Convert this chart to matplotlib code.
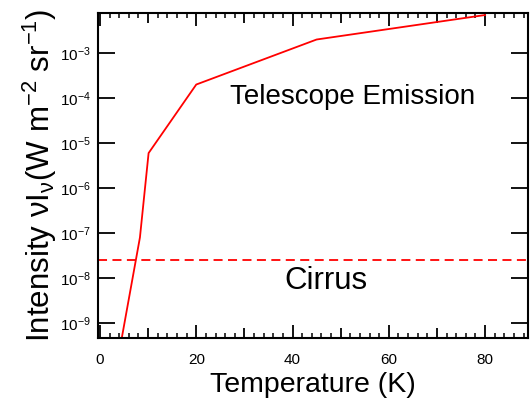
import math
import matplotlib.pyplot as plt
from matplotlib.ticker import MultipleLocator, FixedLocator, NullLocator, FuncFormatter

plt.rcParams['font.family'] = ['Liberation Sans', 'DejaVu Sans']
plt.rcParams['mathtext.fontset'] = 'custom'
plt.rcParams['mathtext.rm'] = 'Liberation Sans'
plt.rcParams['mathtext.it'] = 'Liberation Sans'
plt.rcParams['mathtext.default'] = 'rm'

# Telescope emission curve
temp = [4.5, 8.3, 10.1, 20, 45, 80]
emission = [4.5e-10, 8e-8, 6e-6, 2e-4, 2e-3, 7e-3]

# Cirrus level
cirrus = 2.5e-8

# y ticks (decades shown)
ydecades = [-9, -8, -7, -6, -5, -4, -3]

fig = plt.figure(figsize=(5.3, 4.0), dpi=100)
ax = fig.add_axes([0.185, 0.155, 0.812, 0.8125])

ax.plot(temp, emission, color='red', lw=1.3)
ax.axhline(cirrus, color='red', lw=1.3, ls=(0, (5, 3)))

ax.set_yscale('log')
ax.set_xlim(-0.4, 89)
ax.set_ylim(10**-9.33, 10**-2.11)

# major every 10 (labels only on multiples of 20), minor every 2
ax.xaxis.set_major_locator(FixedLocator([0, 10, 20, 30, 40, 50, 60, 70, 80]))
ax.xaxis.set_minor_locator(MultipleLocator(2))
ax.xaxis.set_major_formatter(FuncFormatter(lambda v, p: '%d' % v if round(v) % 20 == 0 else ''))
ax.yaxis.set_major_locator(FixedLocator([10.0**d for d in ydecades]))
ax.yaxis.set_minor_locator(NullLocator())
ax.yaxis.set_major_formatter(FuncFormatter(lambda v, p: '10$^{%d}$' % round(math.log10(v))))

ax.tick_params(axis='x', which='major', direction='in', length=9.5, width=1.3,
               top=True, labelsize=11, pad=10.5)
ax.tick_params(axis='x', which='minor', direction='in', length=3.8, width=1.1, top=True)
ax.tick_params(axis='y', which='major', direction='in', length=12, width=1.3,
               right=True, labelsize=11, pad=5)
for s in ax.spines.values():
    s.set_linewidth(1.5)

ax.text(52.5, 10**-3.98, 'Telescope Emission', fontsize=20, ha='center', va='center')
ax.text(47, 10**-8.06, 'Cirrus', fontsize=22.5, ha='center', va='center')

ax.set_xlabel('Temperature (K)', fontsize=20.5, labelpad=4)
ax.set_ylabel(r'Intensity $\nu$I$_\nu$(W m$^{-2}$ sr$^{-1}$)', fontsize=22.5, labelpad=1)

# shorter ticks at the odd tens
fig.canvas.draw()
for tick, v in zip(ax.xaxis.get_major_ticks(), ax.xaxis.get_majorticklocs()):
    if round(v) % 20 != 0:
        tick.tick1line.set_markersize(7.2)
        tick.tick2line.set_markersize(7.2)

fig.savefig('out.png', dpi=100)
